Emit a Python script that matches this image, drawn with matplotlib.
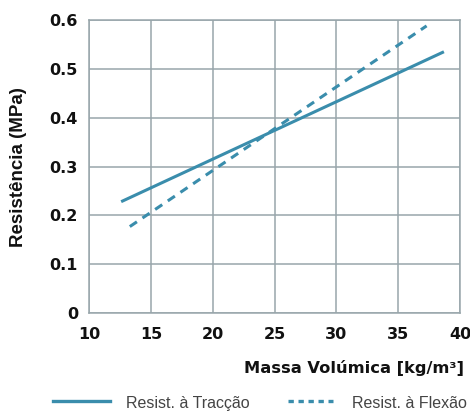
import matplotlib
matplotlib.use("Agg")
import matplotlib.pyplot as plt
from matplotlib.lines import Line2D

# Data
tracc_x = [12.6, 38.7]
tracc_y = [0.228, 0.535]
flex_x = [13.3, 37.3]
flex_y = [0.177, 0.588]
x_ticks = [10, 15, 20, 25, 30, 35, 40]
y_ticks = [0, 0.1, 0.2, 0.3, 0.4, 0.5, 0.6]
y_ticklabels = ["0", "0.1", "0.2", "0.3", "0.4", "0.5", "0.6"]
labels = ["Resist. à Tracção", "Resist. à Flexão"]

line_color = "#3a8dac"
grid_color = "#98a6ab"

fig = plt.figure(figsize=(4.70, 4.11), dpi=100)
ax = fig.add_axes([0.1894, 0.2384, 0.7893, 0.7129])

ax.plot(tracc_x, tracc_y, color=line_color, lw=2.2, solid_capstyle="butt")
ax.plot(flex_x, flex_y, color=line_color, lw=2.2, ls=(0, (2.8, 2.2)))

ax.set_xlim(10, 40)
ax.set_ylim(0, 0.6)
ax.set_xticks(x_ticks)
ax.set_yticks(y_ticks)
ax.set_yticklabels(y_ticklabels)
ax.grid(True, color=grid_color, lw=1.1)
ax.set_axisbelow(True)
for s in ax.spines.values():
    s.set_color(grid_color)
    s.set_linewidth(1.1)
ax.tick_params(length=0, pad=8)
for lab in ax.get_xticklabels() + ax.get_yticklabels():
    lab.set_fontweight("bold")
    lab.set_fontsize(11.5)
    lab.set_color("#111111")
    lab.set_family("DejaVu Sans")
ax.tick_params(axis="x", pad=10)

fig.text(19/470, 1 - 167/411, "Resistência (MPa)", rotation=90, ha="center", va="center",
         fontsize=13.5, fontweight="bold", family="Liberation Sans", color="#111111")
fig.text(464/470, 1 - 368/411, "Massa Volúmica [kg/m³]", ha="right", va="center",
         fontsize=11.7, fontweight="bold", family="DejaVu Sans", color="#111111")

# Legend
ly = 1 - 401/411
fig.add_artist(Line2D([53/470, 110/470], [ly, ly], color=line_color, lw=2.4))
fig.text(126/470, 1 - 403/411, labels[0], ha="left", va="center", fontsize=11.5,
         family="Liberation Sans", color="#444444")
fig.add_artist(Line2D([288/470, 333/470], [ly, ly], color=line_color,
                      lw=2.4, ls=(0, (1.6, 1.4))))
fig.text(352/470, 1 - 403/411, labels[1], ha="left", va="center", fontsize=11.5,
         family="Liberation Sans", color="#444444")

fig.savefig("out.png", dpi=100)
